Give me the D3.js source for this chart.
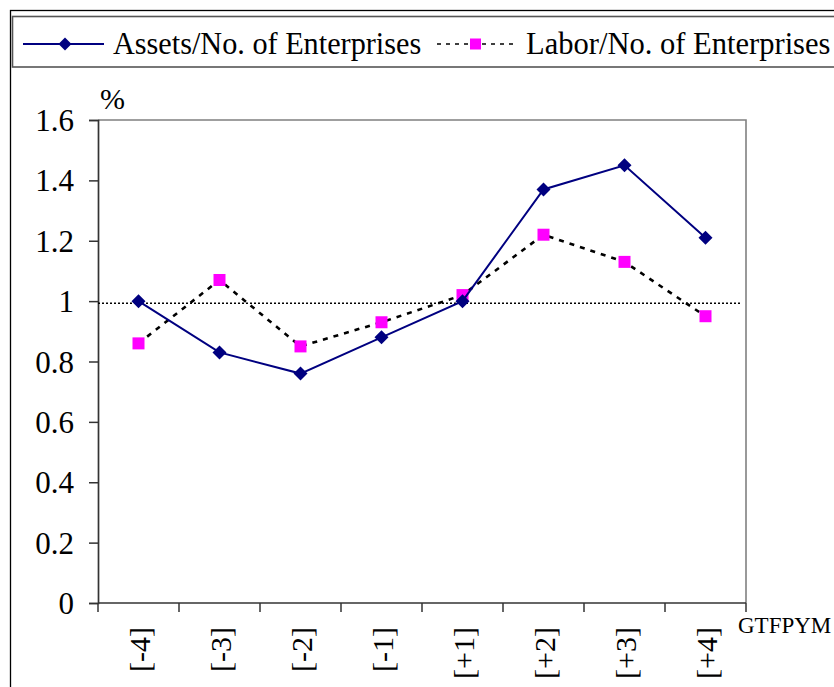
<!DOCTYPE html>
<html>
<head>
<meta charset="utf-8">
<script src="https://cdn.jsdelivr.net/npm/d3@7"></script>
<style>
  html, body { margin: 0; padding: 0; background: #fff; }
  svg { display: block; }
</style>
</head>
<body>
<svg id="chart" width="834" height="687"></svg>
<script>
const categories = ["[-4]", "[-3]", "[-2]", "[-1]", "[+1]", "[+2]", "[+3]", "[+4]"];
const assets = [1.00, 0.83, 0.76, 0.88, 1.00, 1.37, 1.45, 1.21];
const labor  = [0.86, 1.07, 0.85, 0.93, 1.02, 1.22, 1.13, 0.95];
const yTicks = [0, 0.2, 0.4, 0.6, 0.8, 1, 1.2, 1.4, 1.6];
const referenceValue = 0.993;
const seriesNames = ["Assets/No. of Enterprises", "Labor/No. of Enterprises"];
const yUnit = "%";
const xTitle = "GTFPYM";

const FONT = "Liberation Serif";
const svg = d3.select("#chart").attr("font-family", FONT);
const W = 834, H = 687;
const plot = { left: 98, right: 746, top: 120, bottom: 603 };

// outer frame
svg.append("rect").attr("x", 10.5).attr("y", 10.5).attr("width", W + 20).attr("height", H + 20)
  .attr("fill", "#fff").attr("stroke", "#000").attr("stroke-width", 1.3);

// legend box
svg.append("rect").attr("x", 12.5).attr("y", 16.5).attr("width", W + 20).attr("height", 50.5)
  .attr("fill", "#fff").attr("stroke", "#555").attr("stroke-width", 1.6);

const x = d3.scaleBand().domain(categories).range([plot.left, plot.right]).padding(0);
const y = d3.scaleLinear().domain([0, 1.6]).range([plot.bottom, plot.top]);
const cx = c => x(c) + x.bandwidth() / 2;

// plot area gray border (top & right)
svg.append("path")
  .attr("d", `M${plot.left},${plot.top}H${plot.right}V${plot.bottom}`)
  .attr("fill", "none").attr("stroke", "#808080").attr("stroke-width", 1.6);

// y axis
const yAxis = d3.axisLeft(y).tickValues(yTicks).tickSize(9).tickPadding(15)
  .tickFormat(d => d === 0 ? "0" : (d === 1 ? "1" : d3.format(".1f")(d)));
const gy = svg.append("g").attr("transform", `translate(${plot.left},0)`).call(yAxis)
  .attr("font-family", FONT).attr("font-size", 31);
gy.select(".domain").attr("stroke", "#333").attr("stroke-width", 1.7);
gy.selectAll(".tick line").attr("stroke", "#333").attr("stroke-width", 1.5);
gy.selectAll(".tick text").attr("fill", "#000").attr("dy", "0.34em");

// x axis: ticks at category boundaries
const gx = svg.append("g").attr("transform", `translate(0,${plot.bottom})`);
gx.append("line").attr("x1", plot.left).attr("x2", plot.right).attr("y1", 0).attr("y2", 0)
  .attr("stroke", "#333").attr("stroke-width", 1.7);
const bounds = categories.map(c => x(c)).concat([plot.right]);
gx.selectAll("line.tk").data(bounds).enter().append("line").attr("class", "tk")
  .attr("x1", d => d).attr("x2", d => d).attr("y1", 0).attr("y2", 9)
  .attr("stroke", "#333").attr("stroke-width", 1.5);
gx.selectAll("text.cat").data(categories).enter().append("text").attr("class", "cat")
  .attr("transform", d => `translate(${cx(d) + 1},24) rotate(-90)`)
  .attr("text-anchor", "end").attr("dy", "0.34em")
  .attr("font-family", FONT).attr("font-size", 30)
  .text(d => d);

// axis titles
svg.append("text").attr("x", 100).attr("y", 109)
  .attr("font-family", FONT).attr("font-size", 30).text(yUnit);
svg.append("text").attr("x", 738).attr("y", 633)
  .attr("font-family", FONT).attr("font-size", 23).text(xTitle);

// reference line
svg.append("line").attr("x1", plot.left).attr("x2", 740)
  .attr("y1", y(referenceValue)).attr("y2", y(referenceValue))
  .attr("stroke", "#000").attr("stroke-width", 1.6).attr("stroke-dasharray", "2,2");

const line = d3.line().x((d, i) => cx(categories[i])).y(d => y(d));

// labor series
svg.append("path").datum(labor).attr("d", line)
  .attr("fill", "none").attr("stroke", "#000").attr("stroke-width", 2.6)
  .attr("stroke-dasharray", "5,6");
const sq = 12;
svg.selectAll("rect.lab").data(labor).enter().append("rect").attr("class", "lab")
  .attr("x", (d, i) => cx(categories[i]) - sq / 2).attr("y", d => y(d) - sq / 2)
  .attr("width", sq).attr("height", sq).attr("fill", "#FF00FF");

// assets series
svg.append("path").datum(assets).attr("d", line)
  .attr("fill", "none").attr("stroke", "#000080").attr("stroke-width", 2);
const diamond = (px, py, r) => `M${px},${py - r}L${px + r},${py}L${px},${py + r}L${px - r},${py}Z`;
svg.selectAll("path.ast").data(assets).enter().append("path").attr("class", "ast")
  .attr("d", (d, i) => diamond(cx(categories[i]), y(d), 7))
  .attr("fill", "#000080");

// legend
const ly = 44;
svg.append("line").attr("x1", 23).attr("x2", 104).attr("y1", ly).attr("y2", ly)
  .attr("stroke", "#000080").attr("stroke-width", 2);
svg.append("path").attr("d", diamond(65, ly, 6.5)).attr("fill", "#000080");
svg.append("text").attr("transform", "translate(113,54) scale(0.945,1)")
  .attr("font-family", FONT).attr("font-size", 32).text(seriesNames[0]);

svg.append("line").attr("x1", 437).attr("x2", 515).attr("y1", ly).attr("y2", ly)
  .attr("stroke", "#000").attr("stroke-width", 1.6).attr("stroke-dasharray", "4,5");
svg.append("rect").attr("x", 470).attr("y", ly - 5.5).attr("width", 11).attr("height", 11)
  .attr("fill", "#FF00FF");
svg.append("text").attr("transform", "translate(526,54) scale(0.955,1)")
  .attr("font-family", FONT).attr("font-size", 32).text(seriesNames[1]);
</script>
</body>
</html>
